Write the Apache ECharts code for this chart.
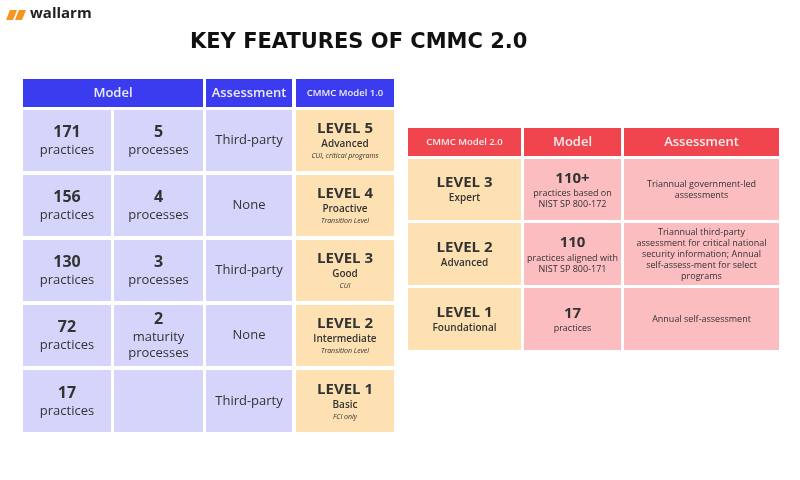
<!DOCTYPE html>
<html>
<head>
<meta charset="utf-8">
<script src="https://cdn.jsdelivr.net/npm/echarts@6/dist/echarts.min.js"></script>
<style>html,body,#main{margin:0;width:800px;height:480px;background:#fff}</style>
</head>
<body>
<div id="main"></div>
<script>
// left table (CMMC 1.0)
var leftHeaders = ['Model', 'Assessment', 'CMMC Model 1.0'];
var practices1 = ['171', '156', '130', '72', '17'];
var processes1 = ['5', '4', '3', '2', ''];
var processLabel1 = ['processes', 'processes', 'processes', 'maturity\nprocesses', ''];
var assess1 = ['Third-party', 'None', 'Third-party', 'None', 'Third-party'];
var levels1 = ['LEVEL 5', 'LEVEL 4', 'LEVEL 3', 'LEVEL 2', 'LEVEL 1'];
var levelNames1 = ['Advanced', 'Proactive', 'Good', 'Intermediate', 'Basic'];
var levelNotes1 = ['CUI, critical programs', 'Transition Level', 'CUI', 'Transition Level', 'FCI only'];

// right table (CMMC 2.0)
var rightHeaders = ['CMMC Model 2.0', 'Model', 'Assessment'];
var levels2 = ['LEVEL 3', 'LEVEL 2', 'LEVEL 1'];
var levelNames2 = ['Expert', 'Advanced', 'Foundational'];
var practices2 = ['110+', '110', '17'];
var practiceText2 = ['practices based on\nNIST SP 800-172', 'practices aligned with\nNIST SP 800-171', 'practices'];
var assess2 = [
  'Triannual government-led\nassessments',
  'Triannual third-party\nassessment for critical national\nsecurity information; Annual\nself-assess-ment for select\nprograms',
  'Annual self-assessment'
];

// layout
var LX = [23, 111, 114, 203, 206, 292, 296, 394];
var LHEAD = [79, 107];
var LROWS = [[110, 171], [175, 236], [240, 301], [305, 366], [370, 432]];
var RX = [408, 521, 524, 621, 624, 779];
var RHEAD = [128, 156];
var RROWS = [[159, 220], [223, 285], [288, 350]];

var FONT = 'Open Sans';
var BLUE = '#3b3cf0', LAV = '#d5d5fb', ORANGE = '#fde1b2', RED = '#f0454e', PINK = '#fbbdc0';
var rich = {
  big: {fontSize: 16, fontWeight: 'bold', color: '#000', lineHeight: 20},
  reg: {fontSize: 13, color: '#111', lineHeight: 16},
  lv: {fontSize: 15, fontWeight: 'bold', color: '#000', lineHeight: 18},
  ln: {fontSize: 10, fontWeight: 600, color: '#111', lineHeight: 13},
  note: {fontSize: 7, fontStyle: 'italic', color: '#333', lineHeight: 10},
  hw: {fontSize: 13, fontWeight: 600, color: '#fff'},
  hs: {fontSize: 9.5, fontWeight: 600, color: '#fff'},
  sm: {fontSize: 9, color: '#111', lineHeight: 11},
  n2: {fontSize: 15, fontWeight: 'bold', color: '#000', lineHeight: 19}
};
Object.keys(rich).forEach(function (k) { rich[k].fontFamily = FONT; });

var cells = [];
function cell(x0, x1, y0, y1, color, text) { cells.push([x0, x1, y0, y1, color, text]); }
function lines(tag, s) { return s.split('\n').map(function (t) { return '{' + tag + '|' + t + '}'; }).join('\n'); }

cell(LX[0], LX[3], LHEAD[0], LHEAD[1], BLUE, '{hw|' + leftHeaders[0] + '}');
cell(LX[4], LX[5], LHEAD[0], LHEAD[1], BLUE, '{hw|' + leftHeaders[1] + '}');
cell(LX[6], LX[7], LHEAD[0], LHEAD[1], BLUE, '{hs|' + leftHeaders[2] + '}');
LROWS.forEach(function (r, i) {
  cell(LX[0], LX[1], r[0], r[1], LAV, '{big|' + practices1[i] + '}\n{reg|practices}');
  var p = processes1[i] ? '{big|' + processes1[i] + '}\n' + lines('reg', processLabel1[i]) : '';
  cell(LX[2], LX[3], r[0], r[1], LAV, p);
  cell(LX[4], LX[5], r[0], r[1], LAV, '{reg|' + assess1[i] + '}');
  cell(LX[6], LX[7], r[0], r[1], ORANGE, '{lv|' + levels1[i] + '}\n{ln|' + levelNames1[i] + '}\n{note|' + levelNotes1[i] + '}');
});
cell(RX[0], RX[1], RHEAD[0], RHEAD[1], RED, '{hs|' + rightHeaders[0] + '}');
cell(RX[2], RX[3], RHEAD[0], RHEAD[1], RED, '{hw|' + rightHeaders[1] + '}');
cell(RX[4], RX[5], RHEAD[0], RHEAD[1], RED, '{hw|' + rightHeaders[2] + '}');
RROWS.forEach(function (r, i) {
  cell(RX[0], RX[1], r[0], r[1], ORANGE, '{lv|' + levels2[i] + '}\n{ln|' + levelNames2[i] + '}');
  cell(RX[2], RX[3], r[0], r[1], PINK, '{n2|' + practices2[i] + '}\n' + lines('sm', practiceText2[i]));
  cell(RX[4], RX[5], r[0], r[1], PINK, lines('sm', assess2[i]));
});

var chart = echarts.init(document.getElementById('main'));
chart.setOption({
  textStyle: {fontFamily: FONT},
  grid: {left: 0, right: 0, top: 0, bottom: 0},
  xAxis: {type: 'value', min: 0, max: 800, show: false},
  yAxis: {type: 'value', min: 0, max: 480, inverse: true, show: false},
  graphic: [
    {type: 'polygon', shape: {points: [[10, 10], [17, 10], [13, 20], [6, 20]]}, style: {fill: '#f7941d'}},
    {type: 'polygon', shape: {points: [[19, 10], [26, 10], [22, 20], [15, 20]]}, style: {fill: '#f7941d'}},
    {type: 'text', left: 30, top: 6, style: {text: 'wallarm', font: 'bold 15px "Open Sans"', fill: '#222'}},
    {type: 'text', left: 190, top: 32, style: {text: 'KEY FEATURES OF CMMC 2.0', font: 'bold 21px "DejaVu Sans"', fill: '#111'}}
  ],
  series: [{
    type: 'custom',
    coordinateSystem: 'cartesian2d',
    data: cells,
    encode: {x: [0, 1], y: [2, 3]},
    renderItem: function (params, api) {
      var d = cells[params.dataIndex];
      var p0 = api.coord([d[0], d[2]]);
      var p1 = api.coord([d[1], d[3]]);
      return {
        type: 'rect',
        shape: {x: p0[0], y: p0[1], width: p1[0] - p0[0], height: p1[1] - p0[1]},
        style: {fill: d[4]},
        textContent: {style: {text: d[5], rich: rich, align: 'center', verticalAlign: 'middle', fontFamily: FONT}},
        textConfig: {position: 'inside'}
      };
    }
  }]
});
</script>
</body>
</html>
